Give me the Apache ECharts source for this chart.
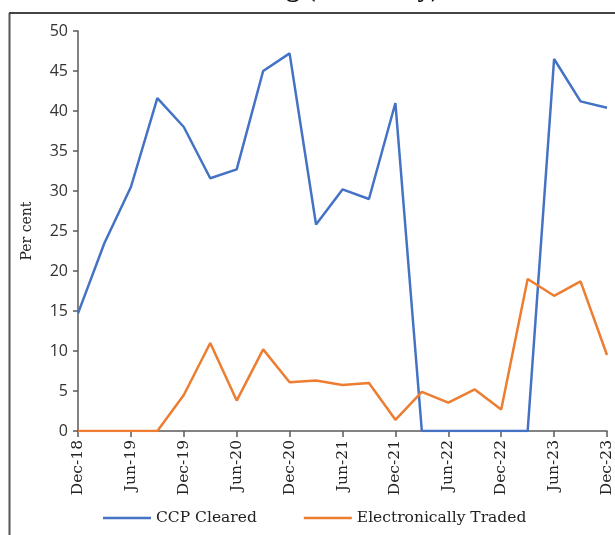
<!DOCTYPE html>
<html><head><meta charset="utf-8">
<script src="https://cdn.jsdelivr.net/npm/echarts@6/dist/echarts.min.js"></script>
<style>html,body{margin:0;padding:0;background:#fff}#c{width:615px;height:535px}</style>
</head><body><div id="c"></div>
<script>
const categories = ['Dec-18','Mar-19','Jun-19','Sep-19','Dec-19','Mar-20','Jun-20','Sep-20','Dec-20','Mar-21','Jun-21','Sep-21','Dec-21','Mar-22','Jun-22','Sep-22','Dec-22','Mar-23','Jun-23','Sep-23','Dec-23'];
const ccpCleared = [14.7, 23.5, 30.5, 41.6, 38.0, 31.6, 32.7, 45.0, 47.2, 25.8, 30.2, 29.0, 41.0, 0, 0, 0, 0, 0, 46.5, 41.2, 40.4];
const electronicallyTraded = [0, 0, 0, 0, 4.5, 11.0, 3.8, 10.2, 6.1, 6.3, 5.75, 6.0, 1.4, 4.9, 3.55, 5.2, 2.7, 19.0, 16.9, 18.7, 9.5];
const seriesNames = ['CCP Cleared', 'Electronically Traded'];
const yAxisName = 'Per cent';
const titleFragment = 'Trading (Quarterly)';

const chart = echarts.init(document.getElementById('c'), null, {renderer: 'canvas'});
const axisColor = '#595959';
const serif = 'DejaVu Serif';
chart.setOption({
  animation: false,
  backgroundColor: '#fff',
  grid: {left: 78, right: 8, top: 31, bottom: 104, containLabel: false},
  graphic: [
    {type: 'line', shape: {x1: 9.5, y1: 13, x2: 9.5, y2: 535}, style: {stroke: '#555', lineWidth: 2}},
    {type: 'line', shape: {x1: 9, y1: 13, x2: 615, y2: 13}, style: {stroke: '#444', lineWidth: 2}},
    {type: 'text', right: 615 - 440, top: -24, style: {text: titleFragment, font: 'bold 27px "Liberation Serif"', fill: '#111'}}
  ],
  legend: {
    left: 103, top: 510, itemGap: 47, itemWidth: 48, itemHeight: 12, padding: 0,
    icon: 'path://M0,5 L48,5 L48,7.5 L0,7.5 Z',
    textStyle: {fontFamily: serif, fontSize: 15.5, color: '#222'},
    data: seriesNames
  },
  xAxis: {
    type: 'category', data: categories, boundaryGap: false,
    axisLine: {lineStyle: {color: axisColor, width: 1.5}},
    axisTick: {show: true, interval: 1, length: 6, lineStyle: {color: axisColor, width: 1.5}},
    axisLabel: {interval: 1, rotate: 90, margin: 9, fontFamily: serif, fontSize: 15.5, color: '#222'},
    splitLine: {show: false}
  },
  yAxis: {
    type: 'value', min: 0, max: 50, interval: 5,
    name: yAxisName, nameLocation: 'middle', nameGap: 44,
    nameTextStyle: {fontFamily: serif, fontSize: 14, color: '#222'},
    axisLine: {show: true, lineStyle: {color: axisColor, width: 1.5}},
    axisTick: {show: true, length: 5, lineStyle: {color: axisColor, width: 1.5}},
    axisLabel: {margin: 10, fontFamily: 'Open Sans', fontSize: 16, color: '#333'},
    splitLine: {show: false}
  },
  series: [
    {name: seriesNames[0], type: 'line', data: ccpCleared, symbol: 'none', lineStyle: {color: '#4472C4', width: 2.5}, itemStyle: {color: '#4472C4'}},
    {name: seriesNames[1], type: 'line', data: electronicallyTraded, symbol: 'none', lineStyle: {color: '#ED7D31', width: 2.5}, itemStyle: {color: '#ED7D31'}}
  ]
});
</script></body></html>
